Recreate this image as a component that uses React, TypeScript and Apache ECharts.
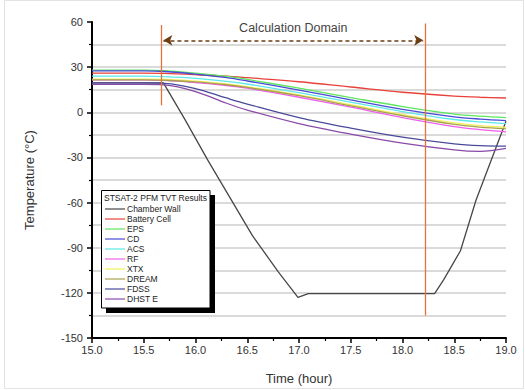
import React, { useEffect, useRef } from "react";
import * as echarts from "echarts";

const hours = [15.0, 15.5, 15.7, 16.0, 16.3, 16.5, 17.0, 17.5, 18.0, 18.5, 18.75, 19.0];
const battery = [26, 26, 25.8, 25, 24, 23, 20.3, 16.8, 13.3, 10.8, 10, 9.5];
const eps = [28, 28, 27.6, 26, 23.8, 21.8, 16, 9.8, 3.8, -1.2, -2.6, -3.5];
const cd = [27.5, 27.5, 27.1, 25.4, 23, 20.8, 14.8, 8.3, 2, -3, -4.5, -5.5];
const acs = [24, 24, 23.7, 22.6, 20.6, 18.8, 13, 6.8, 0.5, -4.8, -6.4, -7.5];
const xtx = [22, 22, 21.8, 20.7, 18.8, 17, 11.5, 5, -1.5, -7, -8.8, -10];
const dream = [21.5, 21.5, 21.3, 20.2, 18.3, 16.5, 11, 4.3, -2.3, -8, -9.8, -11];
const rf = [21.5, 21.5, 21.2, 19.8, 17.8, 16, 10, 3.4, -3.5, -9.5, -11.5, -13];
const fdss = [19.5, 19.5, 19.2, 15.8, 9.5, 5.5, -3.5, -10.5, -16.5, -21, -22.2, -22.5];
const dhst = [18.5, 18.5, 18.2, 13.8, 6, 1.5, -7.5, -14.5, -20.5, -25, -26, -24];

const wallHours = [15.0, 15.69, 15.9, 16.12, 16.55, 16.8, 16.99, 17.09, 18.31, 18.4, 18.56, 18.71, 19.0];
const wallTemps = [19.5, 19.5, -5, -32, -82, -106, -123, -120.5, -120.5, -111, -92, -58.5, -6];

const domainStart = 15.67;
const domainEnd = 18.22;

const seriesNames = ["Chamber Wall", "Battery Cell", "EPS", "CD", "ACS", "RF", "XTX", "DREAM", "FDSS", "DHST E"];
const seriesColors = ["#474747", "#e8413c", "#5ee65e", "#4a4ad6", "#5ee8e8", "#ee5eee", "#f2f25a", "#a8a050", "#4a4a9a", "#8a4aa8"];
const seriesValues = [null, battery, eps, cd, acs, rf, xtx, dream, fdss, dhst];

const FONT = "'Liberation Sans', Arial, sans-serif";

export default function App() {
  const ref = useRef<HTMLDivElement>(null);
  useEffect(() => {
    if (!ref.current) return;
    const chart = echarts.init(ref.current, undefined, { renderer: "svg" });

    const lineSeries: any[] = seriesNames.map((name, i) => {
      const data =
        i === 0
          ? wallHours.map((h, k) => [h, wallTemps[k]])
          : hours.map((h, k) => [h, (seriesValues[i] as number[])[k]]);
      return {
        name,
        type: "line",
        data,
        symbol: "none",
        smooth: i === 0 ? false : 0.35,
        lineStyle: { color: seriesColors[i], width: 1.3 },
        itemStyle: { color: seriesColors[i] },
        z: 3,
      };
    });

    lineSeries.push({
      name: "markers",
      type: "line",
      data: [],
      symbol: "none",
      silent: true,
      markLine: {
        silent: true,
        animation: false,
        symbol: ["none", "none"],
        lineStyle: { color: "#e8703a", width: 1.3, type: "solid" },
        label: { show: false },
        data: [
          [{ coord: [domainStart, 58] }, { coord: [domainStart, 4.6] }],
          [{ coord: [domainEnd, 59] }, { coord: [domainEnd, -135] }],
          [
            {
              coord: [domainStart + 0.02, 47.8],
              symbol: "arrow",
              symbolSize: [8, 9],
              lineStyle: { color: "#6b3e12", width: 1.6, type: [4, 3] },
              label: {
                show: true,
                formatter: "Calculation Domain",
                position: "middle",
                distance: 6,
                color: "#444",
                fontSize: 12.5,
                fontFamily: FONT,
              },
            },
            { coord: [domainEnd - 0.02, 47.8], symbol: "arrow", symbolSize: [8, 9] },
          ],
        ],
      },
    });

    const gridColor = "#dadada";

    chart.setOption({
      animation: false,
      backgroundColor: "#fff",
      grid: { left: 92, right: 19, top: 22, bottom: 52, containLabel: false },
      xAxis: {
        type: "value",
        min: 15,
        max: 19,
        interval: 0.5,
        name: "Time (hour)",
        nameLocation: "middle",
        nameGap: 34,
        nameTextStyle: { fontSize: 13, color: "#333", fontFamily: FONT },
        axisLine: { show: true, onZero: false, lineStyle: { color: "#000", width: 2 } },
        axisTick: { show: true, length: 5, lineStyle: { color: "#000", width: 1.5 } },
        minorTick: { show: true, splitNumber: 2, length: 3, lineStyle: { color: "#000", width: 1.2 } },
        axisLabel: {
          fontSize: 11,
          color: "#333",
          fontFamily: FONT,
          margin: 6,
          formatter: (v: number) => v.toFixed(1),
        },
        splitLine: { show: false },
      },
      yAxis: {
        type: "value",
        min: -150,
        max: 60,
        interval: 30,
        name: "Temperature (°C)",
        nameLocation: "middle",
        nameGap: 56,
        nameRotate: 90,
        nameTextStyle: { fontSize: 13, color: "#333", fontFamily: FONT },
        axisLine: { show: true, onZero: false, lineStyle: { color: "#000", width: 2 } },
        axisTick: { show: true, length: 5, lineStyle: { color: "#000", width: 1.5 } },
        minorTick: { show: true, splitNumber: 2, length: 3, lineStyle: { color: "#000", width: 1.2 } },
        axisLabel: { fontSize: 11, color: "#333", fontFamily: FONT, margin: 9 },
        splitLine: {
          show: true,
          lineStyle: {
            color: [gridColor, gridColor, gridColor, gridColor, gridColor, gridColor, gridColor, "rgba(0,0,0,0)"],
            width: 2,
          },
        },
        minorSplitLine: { show: true, lineStyle: { color: gridColor, width: 2 } },
      },
      legend: {
        show: true,
        data: seriesNames,
        orient: "vertical",
        left: 101,
        top: 204,
        padding: [0, 4, 0, 4],
        itemWidth: 20,
        itemHeight: 10,
        itemGap: 0,
        icon: "path://M0,4.4 L20,4.4 L20,5.6 L0,5.6 Z",
        selectedMode: false,
        textStyle: { fontSize: 8.5, color: "#222", fontFamily: FONT, lineHeight: 10, padding: [0, 0, 0, -3] },
        z: 20,
      },
      graphic: [
        {
          type: "rect",
          z: 0,
          silent: true,
          shape: { x: 4.5, y: 0.5, width: 519, height: 388 },
          style: { fill: "none", stroke: "#e2e2e2", lineWidth: 1 },
        },
        {
          type: "rect",
          z: 10,
          silent: true,
          shape: { x: 106, y: 195, width: 109, height: 118 },
          style: { fill: "#000" },
        },
        {
          type: "rect",
          z: 11,
          silent: true,
          shape: { x: 101.5, y: 190.5, width: 108.5, height: 117.5 },
          style: { fill: "#fff", stroke: "#000", lineWidth: 1 },
        },
        {
          type: "text",
          z: 12,
          silent: true,
          x: 104,
          y: 198,
          style: {
            text: "STSAT-2 PFM TVT Results",
            fontSize: 8.5,
            fill: "#222",
            fontFamily: FONT,
            verticalAlign: "middle",
            align: "left",
          },
        },
      ],
      series: lineSeries,
    });

    return () => chart.dispose();
  }, []);

  return (
    <div
      ref={ref}
      style={{ position: "fixed", left: 0, top: 0, width: 525, height: 390 }}
    />
  );
}
